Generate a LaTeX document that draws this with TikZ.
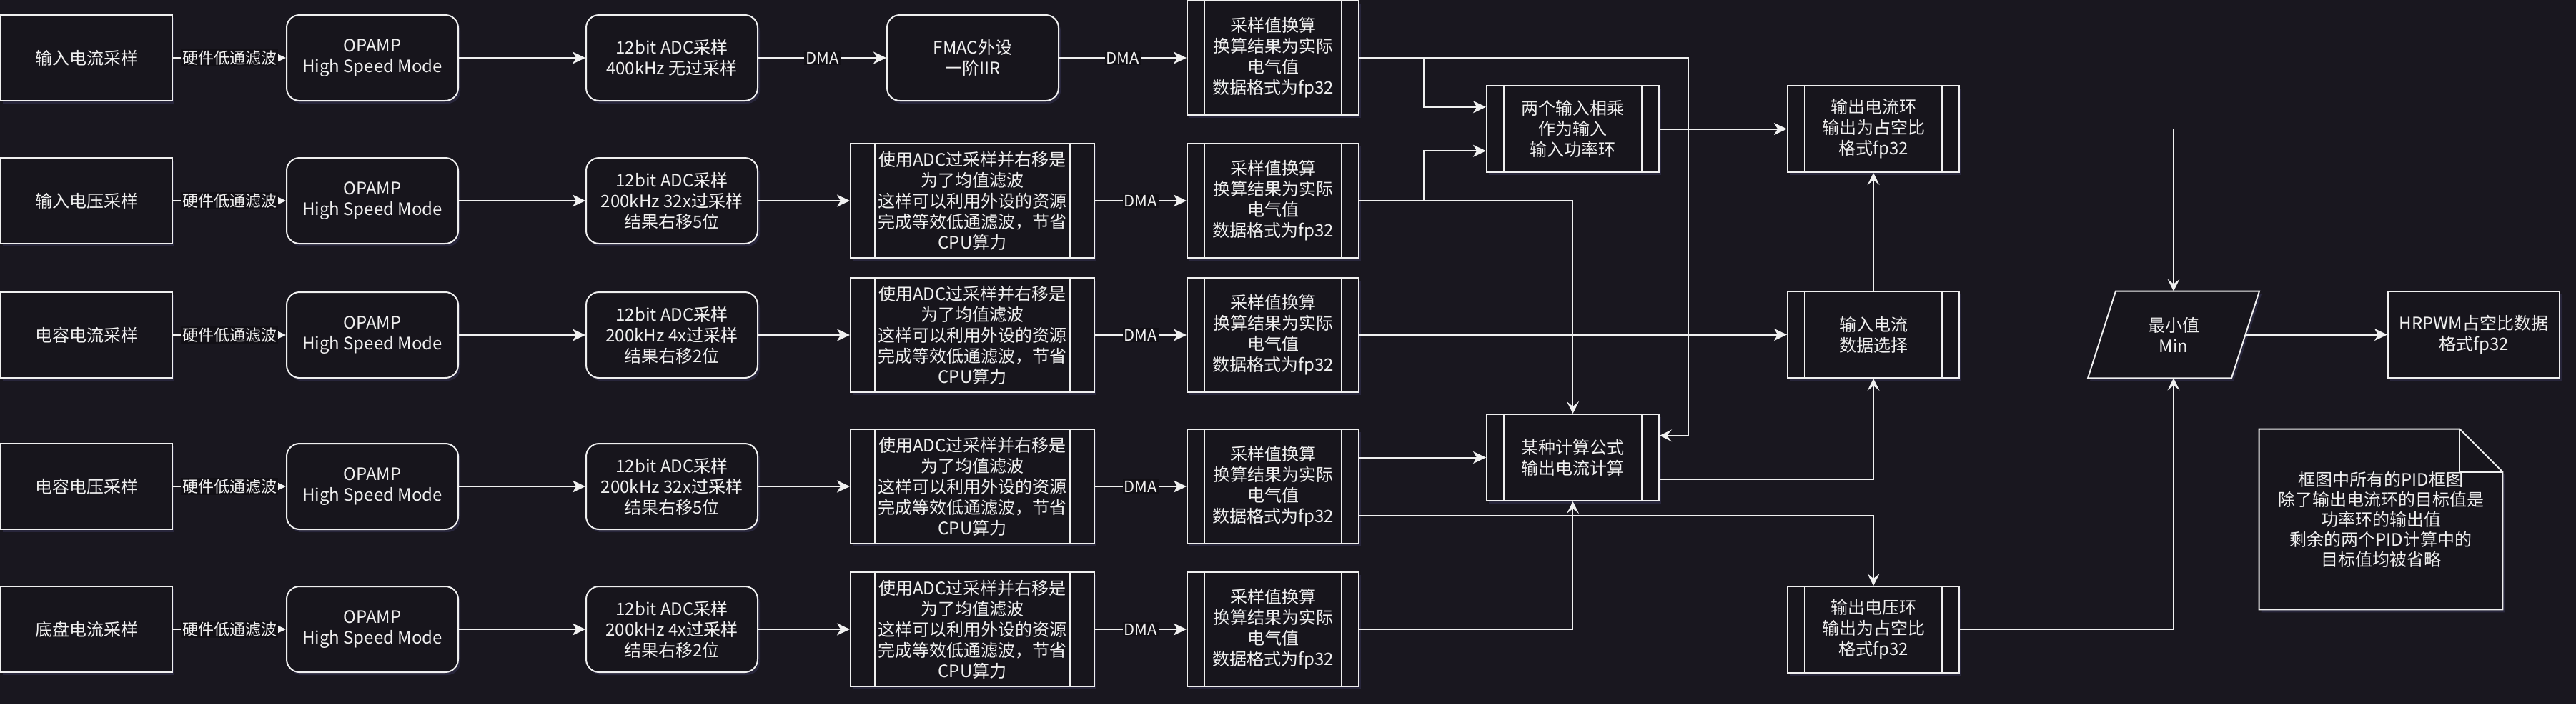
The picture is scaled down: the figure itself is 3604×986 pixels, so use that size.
\documentclass[tikz,border=0pt]{standalone}
\usepackage{fontspec}
\setmainfont{Noto Sans CJK SC}
\usetikzlibrary{arrows.meta,shadows,calc}
\definecolor{bg}{HTML}{19171F}
\definecolor{boxfill}{HTML}{17151C}
\definecolor{fg}{HTML}{F0F0F0}
\definecolor{lblbg}{HTML}{121016}
\definecolor{shadowc}{HTML}{2F2D48}
\tikzset{
  glow/.style={drop shadow={shadow xshift=1.5pt,shadow yshift=-2pt,fill=shadowc,opacity=0.7}},
  base/.style={draw=fg, line width=1pt, fill=boxfill, text=fg,
    font=\fontsize{12}{14.5}\selectfont, align=center, inner sep=0pt, glow},
  srcbox/.style={base, minimum width=120pt, minimum height=60pt},
  rbox/.style={base, rounded corners=9pt, minimum width=120pt, minimum height=60pt},
  procbox/.style={base, minimum width=#1,
    path picture={
      \draw[fg,line width=1pt]
        ($(path picture bounding box.north west)!0.1!(path picture bounding box.north east)$) --
        ($(path picture bounding box.south west)!0.1!(path picture bounding box.south east)$)
        ($(path picture bounding box.north west)!0.9!(path picture bounding box.north east)$) --
        ($(path picture bounding box.south west)!0.9!(path picture bounding box.south east)$);
    }},
  lbl/.style={fill=lblbg, text=fg, font=\fontsize{11}{13}\selectfont, inner sep=1pt},
  arr/.style={draw=fg, line width=1pt, -{Stealth[length=9pt,width=8.5pt,inset=2.5pt]}},
  tarr/.style={draw=fg, line width=0.6pt, -{Stealth[length=8.5pt,width=8.5pt,inset=3.5pt]}},
}
\begin{document}
\begin{tikzpicture}[x=0.5pt,y=-0.5pt]
\fill[bg] (0,0) rectangle (3604,986);
\useasboundingbox (0,0) rectangle (3604,986);

% column 1
\node[srcbox] (a1) at (121,81) {输入电流采样};
\node[srcbox] (a2) at (121,281) {输入电压采样};
\node[srcbox] (a3) at (121,469) {电容电流采样};
\node[srcbox] (a4) at (121,681) {电容电压采样};
\node[srcbox] (a5) at (121,881) {底盘电流采样};
% OPAMP
\foreach \i/\y in {1/81,2/281,3/469,4/681,5/881}{
  \node[rbox] (b\i) at (521,\y) {OPAMP\\High Speed Mode};
}
% ADC
\node[rbox] (c1) at (940,81) {12bit ADC采样\\400kHz 无过采样};
\node[rbox] (c2) at (940,281) {12bit ADC采样\\200kHz 32x过采样\\结果右移5位};
\node[rbox] (c3) at (940,469) {12bit ADC采样\\200kHz 4x过采样\\结果右移2位};
\node[rbox] (c4) at (940,681) {12bit ADC采样\\200kHz 32x过采样\\结果右移5位};
\node[rbox] (c5) at (940,881) {12bit ADC采样\\200kHz 4x过采样\\结果右移2位};
% FMAC and oversampling notes
\node[rbox] (d1) at (1361,81) {FMAC外设\\一阶IIR};
\foreach \i/\y in {2/281,3/469,4/681,5/881}{
  \node[procbox=170.5pt, minimum height=80pt] (d\i) at (1360.5,\y)
    {使用ADC过采样并右移是\\为了均值滤波\\这样可以利用外设的资源\\完成等效低通滤波，节省\\CPU算力};
}
% conversion boxes
\foreach \i/\y in {1/81,2/281,3/469,4/681,5/881}{
  \node[procbox=120pt, minimum height=80pt] (s\i) at (1781,\y)
    {采样值换算\\换算结果为实际\\电气值\\数据格式为fp32};
}
% right part
\node[procbox=120.5pt, minimum height=60.5pt] (p) at (2200.5,180.5) {两个输入相乘\\作为输入\\输入功率环};
\node[procbox=120.5pt, minimum height=60.5pt] (m) at (2200.5,640.5) {某种计算公式\\输出电流计算};
\node[procbox=120pt, minimum height=60.5pt] (o1) at (2621,180.5) {输出电流环\\输出为占空比\\格式fp32};
\node[procbox=120pt, minimum height=60.5pt] (in) at (2621,468.5) {输入电流\\数据选择};
\node[procbox=120pt, minimum height=60.5pt] (o2) at (2621,881.5) {输出电压环\\输出为占空比\\格式fp32};
\node[srcbox, minimum height=60.5pt] (hr) at (3461,468.5) {HRPWM占空比数据\\格式fp32};

% min parallelogram
\node[inner sep=0pt, minimum width=100pt, minimum height=60.5pt] (minn) at (3041,468.5) {};
\draw[draw=fg, line width=1pt, fill=boxfill, glow]
  ([xshift=-40.5pt]minn.north) -- ([xshift=60pt]minn.north) --
  ([xshift=40.5pt]minn.south) -- ([xshift=-60pt]minn.south) -- cycle;
\node[text=fg, font=\fontsize{12}{14.5}\selectfont, align=center] at (minn.center) {最小值\\Min};

% note
\node[inner sep=0pt, minimum width=170pt, minimum height=126pt] (note) at (3331,727) {};
\draw[draw=fg, line width=1pt, fill=boxfill, glow]
  (note.north west) -- ([xshift=-30pt]note.north east) -- ([yshift=-30pt]note.north east) --
  (note.south east) -- (note.south west) -- cycle;
\draw[draw=fg, line width=1pt]
  ([xshift=-30pt]note.north east) -- ([xshift=-30pt,yshift=-30pt]note.north east) -- ([yshift=-30pt]note.north east);
\node[text=fg, font=\fontsize{12}{14}\selectfont, align=center] at (note.center)
  {框图中所有的PID框图\\除了输出电流环的目标值是\\功率环的输出值\\剩余的两个PID计算中的\\目标值均被省略};

% row connectors
\foreach \i in {1,...,5}{
  \draw[arr] (a\i) -- node[lbl]{硬件低通滤波} (b\i);
  \draw[arr] (b\i) -- (c\i);
}
\draw[arr] (c1) -- node[lbl]{DMA} (d1);
\draw[arr] (d1) -- node[lbl]{DMA} (s1);
\foreach \i in {2,...,5}{
  \draw[arr] (c\i) -- (d\i);
  \draw[arr] (d\i) -- node[lbl]{DMA} (s\i);
}

% right side connectors
\draw[arr] (s1.east) -- ++(90,0) |- ($(p.north west)!0.25!(p.south west)$);
\draw[tarr] (s1.east) -- ++(460,0) |- ($(m.north east)!0.25!(m.south east)$);
\draw[arr] (s2.east) -- ++(90,0) |- ($(p.north west)!0.75!(p.south west)$);
\draw[tarr] (s2.east) -| (m.north);
\draw[arr] (p.east) -- (o1.west);
\draw[tarr] (o1.east) -| (minn.north);
\draw[tarr] (in.north) -- (o1.south);
\draw[arr] (s3.east |- in.west) -- (in.west);
\draw[arr] (s4.east |- m.west) -- (m.west);
\draw[tarr] ($(s4.north east)!0.75!(s4.south east)$) -| (o2.north);
\draw[tarr] (s5.east) -| (m.south);
\draw[tarr] ($(m.north east)!0.75!(m.south east)$) -| (in.south);
\draw[tarr] (o2.east) -| (minn.south);
\draw[arr] (minn.east) -- (hr.west);
\end{tikzpicture}
\end{document}
